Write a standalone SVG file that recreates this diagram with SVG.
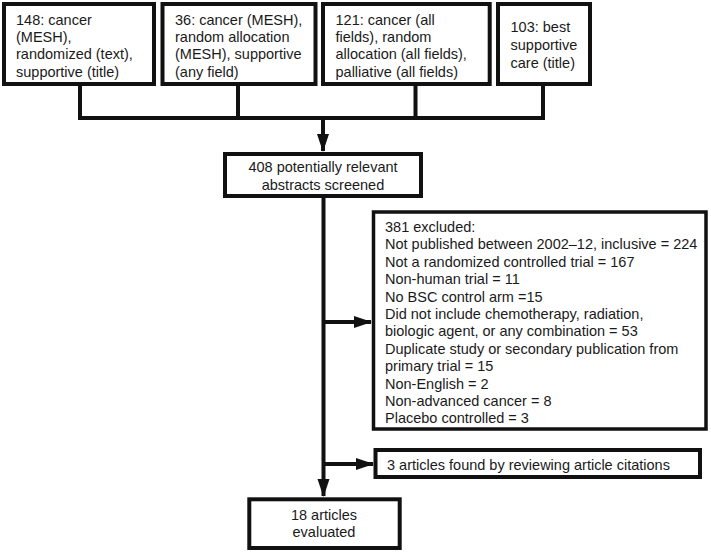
<svg xmlns="http://www.w3.org/2000/svg" width="711" height="552" viewBox="0 0 711 552">
<style>
.box{fill:#fff;stroke:#111;stroke-width:4}
.t{font-family:"Liberation Sans",Arial,sans-serif;font-size:14.5px;fill:#1a1a1a}
.c{text-anchor:middle}
.ln{stroke:#111;stroke-width:4;fill:none}
</style>
<defs>
<marker id="ah" markerUnits="userSpaceOnUse" markerWidth="18" markerHeight="14" refX="17" refY="7" orient="auto">
<polygon points="0,1 18,7 0,13" fill="#111"/>
</marker>
</defs>
<rect width="711" height="552" fill="#fff"/>
<g id="connectors">
<path class="ln" d="M80,86 V118 M238,86 V118 M415.5,86 V118 M543,86 V118 M78,118 H545"/>
<path class="ln" d="M323,118 V151" marker-end="url(#ah)"/>
<path class="ln" d="M323.5,198 V496" marker-end="url(#ah)"/>
<path class="ln" d="M323.5,322 H371" marker-end="url(#ah)"/>
<path class="ln" d="M323.5,464 H373" marker-end="url(#ah)"/>
</g>
<g id="n1">
<rect class="box" x="4" y="4" width="150" height="80"/>
<text class="t" x="16" y="25">148: cancer</text>
<text class="t" x="16" y="42">(MESH),</text>
<text class="t" x="16" y="59">randomized (text),</text>
<text class="t" x="16" y="77">supportive (title)</text>
</g>
<g id="n2">
<rect class="box" x="162.5" y="4" width="153" height="80"/>
<text class="t" x="175" y="25">36: cancer (MESH),</text>
<text class="t" x="175" y="42">random allocation</text>
<text class="t" x="175" y="59">(MESH), supportive</text>
<text class="t" x="175" y="77">(any field)</text>
</g>
<g id="n3">
<rect class="box" x="323" y="4" width="166.7" height="80"/>
<text class="t" x="335.5" y="25">121: cancer (all</text>
<text class="t" x="335.5" y="42">fields), random</text>
<text class="t" x="335.5" y="59">allocation (all fields),</text>
<text class="t" x="335.5" y="77">palliative (all fields)</text>
</g>
<g id="n4">
<rect class="box" x="498" y="4" width="92" height="80"/>
<text class="t" x="510.5" y="32">103: best</text>
<text class="t" x="510.5" y="50">supportive</text>
<text class="t" x="510.5" y="68">care (title)</text>
</g>
<g id="n5">
<rect class="box" x="225" y="154" width="196" height="42"/>
<text class="t c" x="323" y="172">408 potentially relevant</text>
<text class="t c" x="323" y="190">abstracts screened</text>
</g>
<g id="n6">
<rect class="box" x="373.5" y="212" width="332.5" height="217" style="stroke-width:3.5"/>
<text class="t" x="385" y="232">381 excluded:</text>
<text class="t" x="385" y="249.4">Not published between 2002–12, inclusive = 224</text>
<text class="t" x="385" y="266.8">Not a randomized controlled trial = 167</text>
<text class="t" x="385" y="284.2">Non-human trial = 11</text>
<text class="t" x="385" y="301.6">No BSC control arm =15</text>
<text class="t" x="385" y="319">Did not include chemotherapy, radiation,</text>
<text class="t" x="385" y="336.4">biologic agent, or any combination = 53</text>
<text class="t" x="385" y="353.8">Duplicate study or secondary publication from</text>
<text class="t" x="385" y="371.2">primary trial = 15</text>
<text class="t" x="385" y="388.6">Non-English = 2</text>
<text class="t" x="385" y="406">Non-advanced cancer = 8</text>
<text class="t" x="385" y="423.4">Placebo controlled = 3</text>
</g>
<g id="n7">
<rect class="box" x="375.5" y="450" width="324.5" height="27"/>
<text class="t" x="387" y="470">3 articles found by reviewing article citations</text>
</g>
<g id="n8">
<rect class="box" x="249.3" y="499.3" width="150.4" height="48.7"/>
<text class="t c" x="324" y="519.5">18 articles</text>
<text class="t c" x="324" y="537">evaluated</text>
</g>
</svg>
